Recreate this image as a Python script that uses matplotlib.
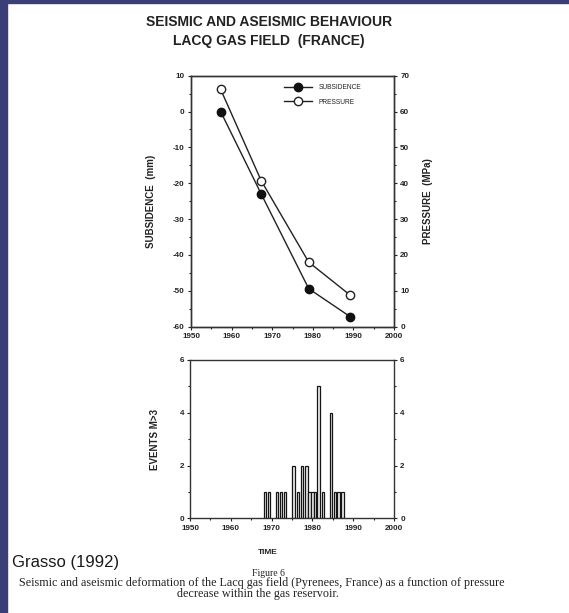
import matplotlib
matplotlib.use("Agg")
import matplotlib.pyplot as plt
from matplotlib.patches import Rectangle
from matplotlib.ticker import MultipleLocator

plt.rcParams['font.family'] = ['Liberation Sans', 'DejaVu Sans']
plt.rcParams['axes.unicode_minus'] = False

# survey years and values
years = [1957.3, 1967.3, 1979.0, 1989.2]
subsidence = [0, -23, -49.4, -57.2]      # mm
pressure = [66.2, 40.7, 18.0, 8.8]       # MPa

# seismic events M>3 per bar
event_years = [1968.4, 1969.3, 1971.3, 1972.3, 1973.3, 1975.4, 1976.5,
               1977.5, 1978.5, 1979.3, 1980.0, 1980.7, 1981.5, 1982.6,
               1984.6, 1985.5, 1986.4, 1987.4]
event_counts = [1, 1, 1, 1, 1, 2, 1, 2, 2, 1, 1, 1, 5, 1, 4, 1, 1, 1]

W, H = 569, 613
fig = plt.figure(figsize=(W / 100, H / 100), dpi=100)
fig.patch.set_facecolor('white')

# dark blue slide border
fig.patches.append(Rectangle((0, 0), 7 / W, 1, transform=fig.transFigure,
                             color='#3b3f78', zorder=0))
fig.patches.append(Rectangle((0, 1 - 3 / H), 1, 3 / H, transform=fig.transFigure,
                             color='#3b3f78', zorder=0))

tick_kw = dict(labelsize=5.8, width=0.8, length=2.5, pad=2, color='#222222')


def style(ax):
    for s in ax.spines.values():
        s.set_linewidth(1.0)
        s.set_color('#333333')
    for lab in ax.get_xticklabels() + ax.get_yticklabels():
        lab.set_fontweight('bold')
        lab.set_color('#222222')


# ---- top panel
ax1 = fig.add_axes([191 / W, 1 - 326.7 / H, 203 / W, 251 / H])
ax1.plot(years, subsidence, '-o', color='#222222', lw=1.0, ms=6,
         mfc='#111111', mec='#111111', label='SUBSIDENCE')
ax1.set_xlim(1950, 2000)
ax1.set_ylim(-60, 10)
ax1.xaxis.set_major_locator(MultipleLocator(10))
ax1.xaxis.set_minor_locator(MultipleLocator(5))
ax1.yaxis.set_major_locator(MultipleLocator(10))
ax1.yaxis.set_minor_locator(MultipleLocator(5))
ax1.tick_params(which='both', direction='out', **tick_kw)
ax1.tick_params(which='minor', length=1.5)
ax1.set_ylabel('SUBSIDENCE  (mm)', fontsize=7, fontweight='bold', labelpad=12,
               color='#222222')

ax2 = ax1.twinx()
ax2.plot(years, pressure, '-o', color='#222222', lw=1.0, ms=6,
         mfc='white', mec='#222222', label='PRESSURE')
ax2.set_ylim(0, 70)
ax2.yaxis.set_major_locator(MultipleLocator(10))
ax2.yaxis.set_minor_locator(MultipleLocator(5))
ax2.tick_params(which='both', direction='out', **tick_kw)
ax2.tick_params(which='minor', length=1.5)
ax2.set_ylabel('PRESSURE  (MPa)', fontsize=7, fontweight='bold', labelpad=10,
               color='#222222')
style(ax1)
style(ax2)

h1, l1 = ax1.get_legend_handles_labels()
h2, l2 = ax2.get_legend_handles_labels()
leg = ax2.legend(h1 + h2, l1 + l2, loc='upper right', bbox_to_anchor=(0.87, 0.99),
                 frameon=False, fontsize=4.8, handlelength=4.2, labelspacing=1.1,
                 handletextpad=1.0)
for t in leg.get_texts():
    t.set_color('#222222')

# ---- bottom panel
ax3 = fig.add_axes([190 / W, 1 - 518.3 / H, 204 / W, 158.3 / H])
ax3.bar(event_years, event_counts, width=0.6, color='#eeeeee', edgecolor='#151515',
        linewidth=0.9)
ax3.set_xlim(1950, 2000)
ax3.set_ylim(0, 6)
ax3.xaxis.set_major_locator(MultipleLocator(10))
ax3.xaxis.set_minor_locator(MultipleLocator(5))
ax3.yaxis.set_major_locator(MultipleLocator(2))
ax3.yaxis.set_minor_locator(MultipleLocator(1))
ax3.tick_params(which='both', direction='out', right=True, labelright=True, **tick_kw)
ax3.tick_params(which='minor', length=1.5)
ax3.set_ylabel('EVENTS M>3', fontsize=7, fontweight='bold', labelpad=14,
               color='#222222')
style(ax3)

# ---- titles and caption
fig.text(269 / W, 1 - 22 / H, 'SEISMIC AND ASEISMIC BEHAVIOUR', ha='center',
         va='center', fontsize=10, fontweight='bold', color='#222222')
fig.text(269 / W, 1 - 41 / H, 'LACQ GAS FIELD  (FRANCE)', ha='center',
         va='center', fontsize=10, fontweight='bold', color='#222222')
fig.text(268 / W, 1 - 553 / H, 'TIME', ha='center', va='center', fontsize=6,
         fontweight='bold', color='#222222')
fig.text(12 / W, 1 - 563 / H, 'Grasso (1992)', ha='left', va='center',
         fontsize=12, color='#1a1a1a')
fig.text(268 / W, 1 - 573 / H, 'Figure 6', ha='center', va='center',
         fontsize=7, family=['Liberation Serif'], color='#222222')
fig.text(262 / W, 1 - 583 / H,
         'Seismic and aseismic deformation of the Lacq gas field (Pyrenees, France) '
         'as a function of pressure',
         ha='center', va='center', fontsize=8.7, family=['Liberation Serif'],
         color='#222222')
fig.text(258 / W, 1 - 594 / H, 'decrease within the gas reservoir.',
         ha='center', va='center', fontsize=8.7, family=['Liberation Serif'],
         color='#222222')

fig.savefig('out.png', dpi=100)
